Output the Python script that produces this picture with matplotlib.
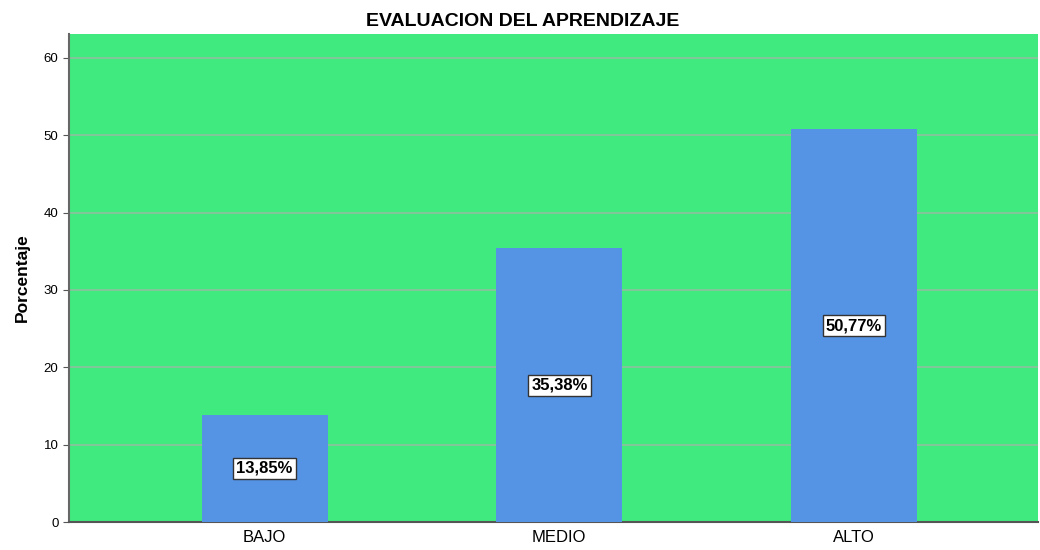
import matplotlib
matplotlib.use('Agg')
import matplotlib.pyplot as plt
import numpy as np

plt.rcParams['font.family'] = ['Liberation Sans', 'DejaVu Sans']

categories = ['BAJO', 'MEDIO', 'ALTO']
percentages = [13.85, 35.38, 50.77]
yticks = [0, 10, 20, 30, 40, 50, 60]

fig = plt.figure(figsize=(10.4, 5.5), dpi=100)
ax = fig.add_axes([0.0663, 0.0509, 0.9317, 0.8873])
ax.set_facecolor('#41EA7F')

x = np.arange(len(categories))
ax.bar(x, percentages, width=0.427, color='#5594E4', zorder=3)

for xi, v in zip(x, percentages):
    ax.text(xi, v / 2, f'{v:.2f}%'.replace('.', ','), ha='center', va='center',
            fontsize=12, fontweight='bold', zorder=4,
            bbox=dict(boxstyle='square,pad=0.18', fc='white', ec='#333333', lw=1))

ax.set_xlim(-0.664, 2.624)
ax.set_ylim(0, 63.1)
ax.set_yticks(yticks)
ax.set_xticks(x)
ax.set_xticklabels(categories, fontsize=12)
ax.tick_params(axis='y', labelsize=9.5, length=4, color='#555555')
ax.tick_params(axis='x', length=0, pad=6)
ax.yaxis.grid(True, color='#8FBF9F', lw=1.2, zorder=1)
ax.set_axisbelow(True)

for s in ['top', 'right']:
    ax.spines[s].set_visible(False)
ax.spines['left'].set_color('#666666')
ax.spines['left'].set_linewidth(1.5)
ax.spines['bottom'].set_color('#555555')
ax.spines['bottom'].set_linewidth(1.5)

ax.set_ylabel('Porcentaje', fontsize=12.5, fontweight='bold', labelpad=10)
fig.text(0.503, 1 - 22 / 550, 'EVALUACION DEL APRENDIZAJE', ha='center', va='center',
         fontsize=14, fontweight='bold')

fig.savefig('out.png', dpi=100)
